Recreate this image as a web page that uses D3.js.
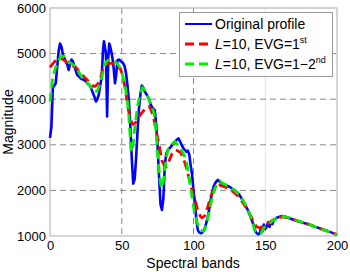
<!DOCTYPE html>
<html><head><meta charset="utf-8">
<script src="https://cdn.jsdelivr.net/npm/d3@7"></script>
<style>body{margin:0;background:#fff}svg{display:block;font-family:"Liberation Sans",Arial,sans-serif}</style>
</head><body><svg id="c" width="350" height="272"></svg>
<script>
const xTicks = [0, 50, 100, 150, 200];
const yTicks = [1000, 2000, 3000, 4000, 5000, 6000];

const origBands = [0,1,2,3,4,5,6,7,8,9,10,11,12,13,14,15,16,17,18,19,20,22,24,26,28,30,31,32,33,34,35,36,37,37.6,38.5,39,39.8,40.6,41.3,42,43,44,45.3,46,47,48,49,50,51,52,53,54,55,56,57,58,59,60,61,62,63,64,65,66,67,68,69,70,71,72,73,74,75,76,77,78,79,80,81,82,84,86,88,89.5,91,92,93,94,95,96,97,98,99,100,101,102,103,104,105,106,107,108,109,110,111,112,113,114,115,116,117,118,120,122,125,128,130,132,134,136,138,140,142,143,144,145,146,147,148,149,150,151,152,153,154,155,156,158,160,162,164,166,170,175,180,185,190,195,200];
const origValues = [3150,3400,4250,4300,4350,4700,5050,5220,5150,4980,4900,4830,4760,4640,4780,4870,4830,4720,4620,4530,4500,4440,4420,4350,4290,4130,4050,3950,4000,4100,4300,4480,5100,5270,5100,5000,3620,4900,5220,5150,5000,4800,4350,4500,4850,4870,4840,4820,4790,4720,4570,4300,3950,3400,2700,2150,2250,2700,3300,3800,4100,4300,4250,4170,4120,4070,4000,3900,3830,3790,3760,3450,2950,2300,1700,1570,1820,2550,2800,2880,2950,3030,3100,3140,3050,2980,2920,2890,2850,2870,2800,2550,2350,2000,1750,1350,1130,1080,1060,1070,1120,1180,1300,1420,1600,1800,1950,2080,2150,2200,2230,2200,2140,2120,2080,2020,1970,1900,1800,1680,1560,1400,1230,1120,1060,1040,1050,1150,1100,1250,1150,1200,1300,1200,1330,1260,1350,1400,1420,1440,1420,1400,1350,1300,1260,1200,1150,1090,1030];

const evg1Bands = [0,2,4,6,8,10,12,14,16,18,20,22,24,26,28,30,31,33,35,37,39,41,43,45,47,49,51,52,53,55,57,58,60,62,64,66,68,69,70,72,74,76,78,80,81,83,85,87,89,91,93,95,97,99,101,103,105,106,108,110,112,114,116,118,120,124,128,132,136,139,142,144,146,148,150,153,156,160,163,168,175,180,185,190,195,200];
const evg1Values = [4700,4780,4850,4890,4890,4850,4800,4760,4730,4700,4620,4550,4480,4420,4350,4290,4280,4320,4450,4650,4760,4780,4790,4780,4730,4660,4500,4300,4100,3700,3480,3450,3500,3620,3700,3780,3830,3840,3800,3620,3300,3000,2650,2530,2520,2650,2800,2880,2870,2830,2700,2500,2250,2000,1800,1560,1420,1400,1450,1650,1870,2000,2070,2110,2100,2050,1960,1850,1650,1500,1300,1200,1180,1200,1240,1300,1360,1410,1420,1380,1310,1260,1200,1140,1090,1030];

const evg12Bands = [0,1,2,4,6,8,10,12,14,16,18,20,22,24,26,28,30,31,33,35,37,39,41,43,45,47,49,51,53,54,55,56,56.5,57.5,59,61,63,64.5,66,68,70,72,73,74,75,76,77,78,79,80,81,82,84,86,87,89,91,93,95,97,99,101,103,104.5,106,107.5,109,111,113,115,117,118.5,120,124,128,132,136,139,141,143,145,147,149,152,155,158,161,163,167,172,178,184,190,195,200];
const evg12Values = [3950,4200,4500,4700,4850,4950,4930,4860,4800,4760,4700,4600,4490,4420,4360,4290,4200,4160,4180,4350,4600,4820,4860,4860,4830,4780,4680,4480,4150,3950,3600,3100,2850,2900,3350,3850,4150,4250,4200,4080,3900,3750,3600,3250,2800,2450,2150,2050,2200,2450,2700,2870,2980,3050,3070,3000,2920,2800,2650,2250,1850,1450,1250,1150,1110,1120,1250,1550,1850,2050,2170,2200,2160,2100,2020,1900,1700,1500,1300,1100,1050,1060,1180,1250,1330,1390,1420,1430,1400,1340,1280,1210,1140,1090,1030];

const legendLabels = ["Original profile", "L=10, EVG=1st", "L=10, EVG=1\u22122nd"];

const svg = d3.select("#c");
const L = 50, R = 337, T = 8, B = 236;
const x = d3.scaleLinear().domain([0, 200]).range([L, R]);
const y = d3.scaleLinear().domain([1000, 6000]).range([B, T]);

const g = svg.append("g");
// grid
g.selectAll(".gx").data(xTicks.slice(1, -1)).join("line")
  .attr("x1", d => x(d)).attr("x2", d => x(d)).attr("y1", T).attr("y2", B)
  .attr("stroke", d => d === 150 ? "#e4e4e4" : "#888").attr("stroke-width", 1)
  .attr("stroke-dasharray", d => d === 150 ? null : "6,4");
g.selectAll(".gy").data(yTicks.slice(1, -1)).join("line")
  .attr("y1", d => y(d)).attr("y2", d => y(d)).attr("x1", L).attr("x2", R)
  .attr("stroke", "#888").attr("stroke-width", 1).attr("stroke-dasharray", "6,4");
// frame
g.append("rect").attr("x", L).attr("y", T).attr("width", R - L).attr("height", B - T)
  .attr("fill", "none").attr("stroke", "#aaa").attr("stroke-width", 1);

// axes
const xa = svg.append("g").attr("transform", `translate(0,${B})`)
  .call(d3.axisBottom(x).tickValues(xTicks).tickSize(0).tickPadding(5).tickFormat(d3.format("d")));
const ya = svg.append("g").attr("transform", `translate(${L},0)`)
  .call(d3.axisLeft(y).tickValues(yTicks).tickSize(0).tickPadding(4).tickFormat(d3.format("d")));
[xa, ya].forEach(a => {
  a.select(".domain").remove();
  a.selectAll("text").attr("font-size", 13).attr("fill", "#000").attr("font-family", "Liberation Sans, Arial, sans-serif");
});

svg.append("text").attr("x", 193).attr("y", 268).attr("text-anchor", "middle")
  .attr("font-size", 14).text("Spectral bands");
svg.append("text").attr("transform", "translate(13,122) rotate(-90)").attr("text-anchor", "middle")
  .attr("font-size", 14).text("Magnitude");

const line = d3.line().x(d => x(d[0])).y(d => y(d[1]));
const plotG = svg.append("g");
plotG.append("path").datum(d3.zip(origBands, origValues)).attr("d", line)
  .attr("fill", "none").attr("stroke", "#0000ff").attr("stroke-width", 2.6).attr("stroke-linejoin", "round");
plotG.append("path").datum(d3.zip(evg1Bands, evg1Values)).attr("d", line)
  .attr("fill", "none").attr("stroke", "#ff0000").attr("stroke-width", 2.8).attr("stroke-dasharray", "9,5");
plotG.append("path").datum(d3.zip(evg12Bands, evg12Values)).attr("d", line)
  .attr("fill", "none").attr("stroke", "#00ee00").attr("stroke-width", 2.8).attr("stroke-dasharray", "9,5");

// legend
const lg = svg.append("g");
lg.append("rect").attr("x", 179.5).attr("y", 12.5).attr("width", 153).attr("height", 64)
  .attr("fill", "#fff").attr("stroke", "#999");
const colors = ["#0000ff", "#ff0000", "#00ee00"];
const rowsY = [24, 44, 64];
rowsY.forEach((ry, i) => {
  lg.append("line").attr("x1", 185).attr("x2", 212).attr("y1", ry).attr("y2", ry)
    .attr("stroke", colors[i]).attr("stroke-width", i === 0 ? 2 : 2.8)
    .attr("stroke-dasharray", i === 0 ? null : "9,5");
});
// text rows
const t0 = lg.append("text").attr("x", 215).attr("y", rowsY[0] + 5).attr("font-size", 14).text(legendLabels[0]);
function evgRow(yy, main, sup) {
  const t = lg.append("text").attr("x", 215).attr("y", yy + 5).attr("font-size", 14);
  t.append("tspan").attr("font-style", "italic").text("L");
  t.append("tspan").text(main);
  t.append("tspan").attr("font-size", 9).attr("dy", -6).text(sup);
}
evgRow(rowsY[1], legendLabels[1].slice(1, -2), legendLabels[1].slice(-2));
evgRow(rowsY[2], legendLabels[2].slice(1, -2), legendLabels[2].slice(-2));
</script></body></html>
